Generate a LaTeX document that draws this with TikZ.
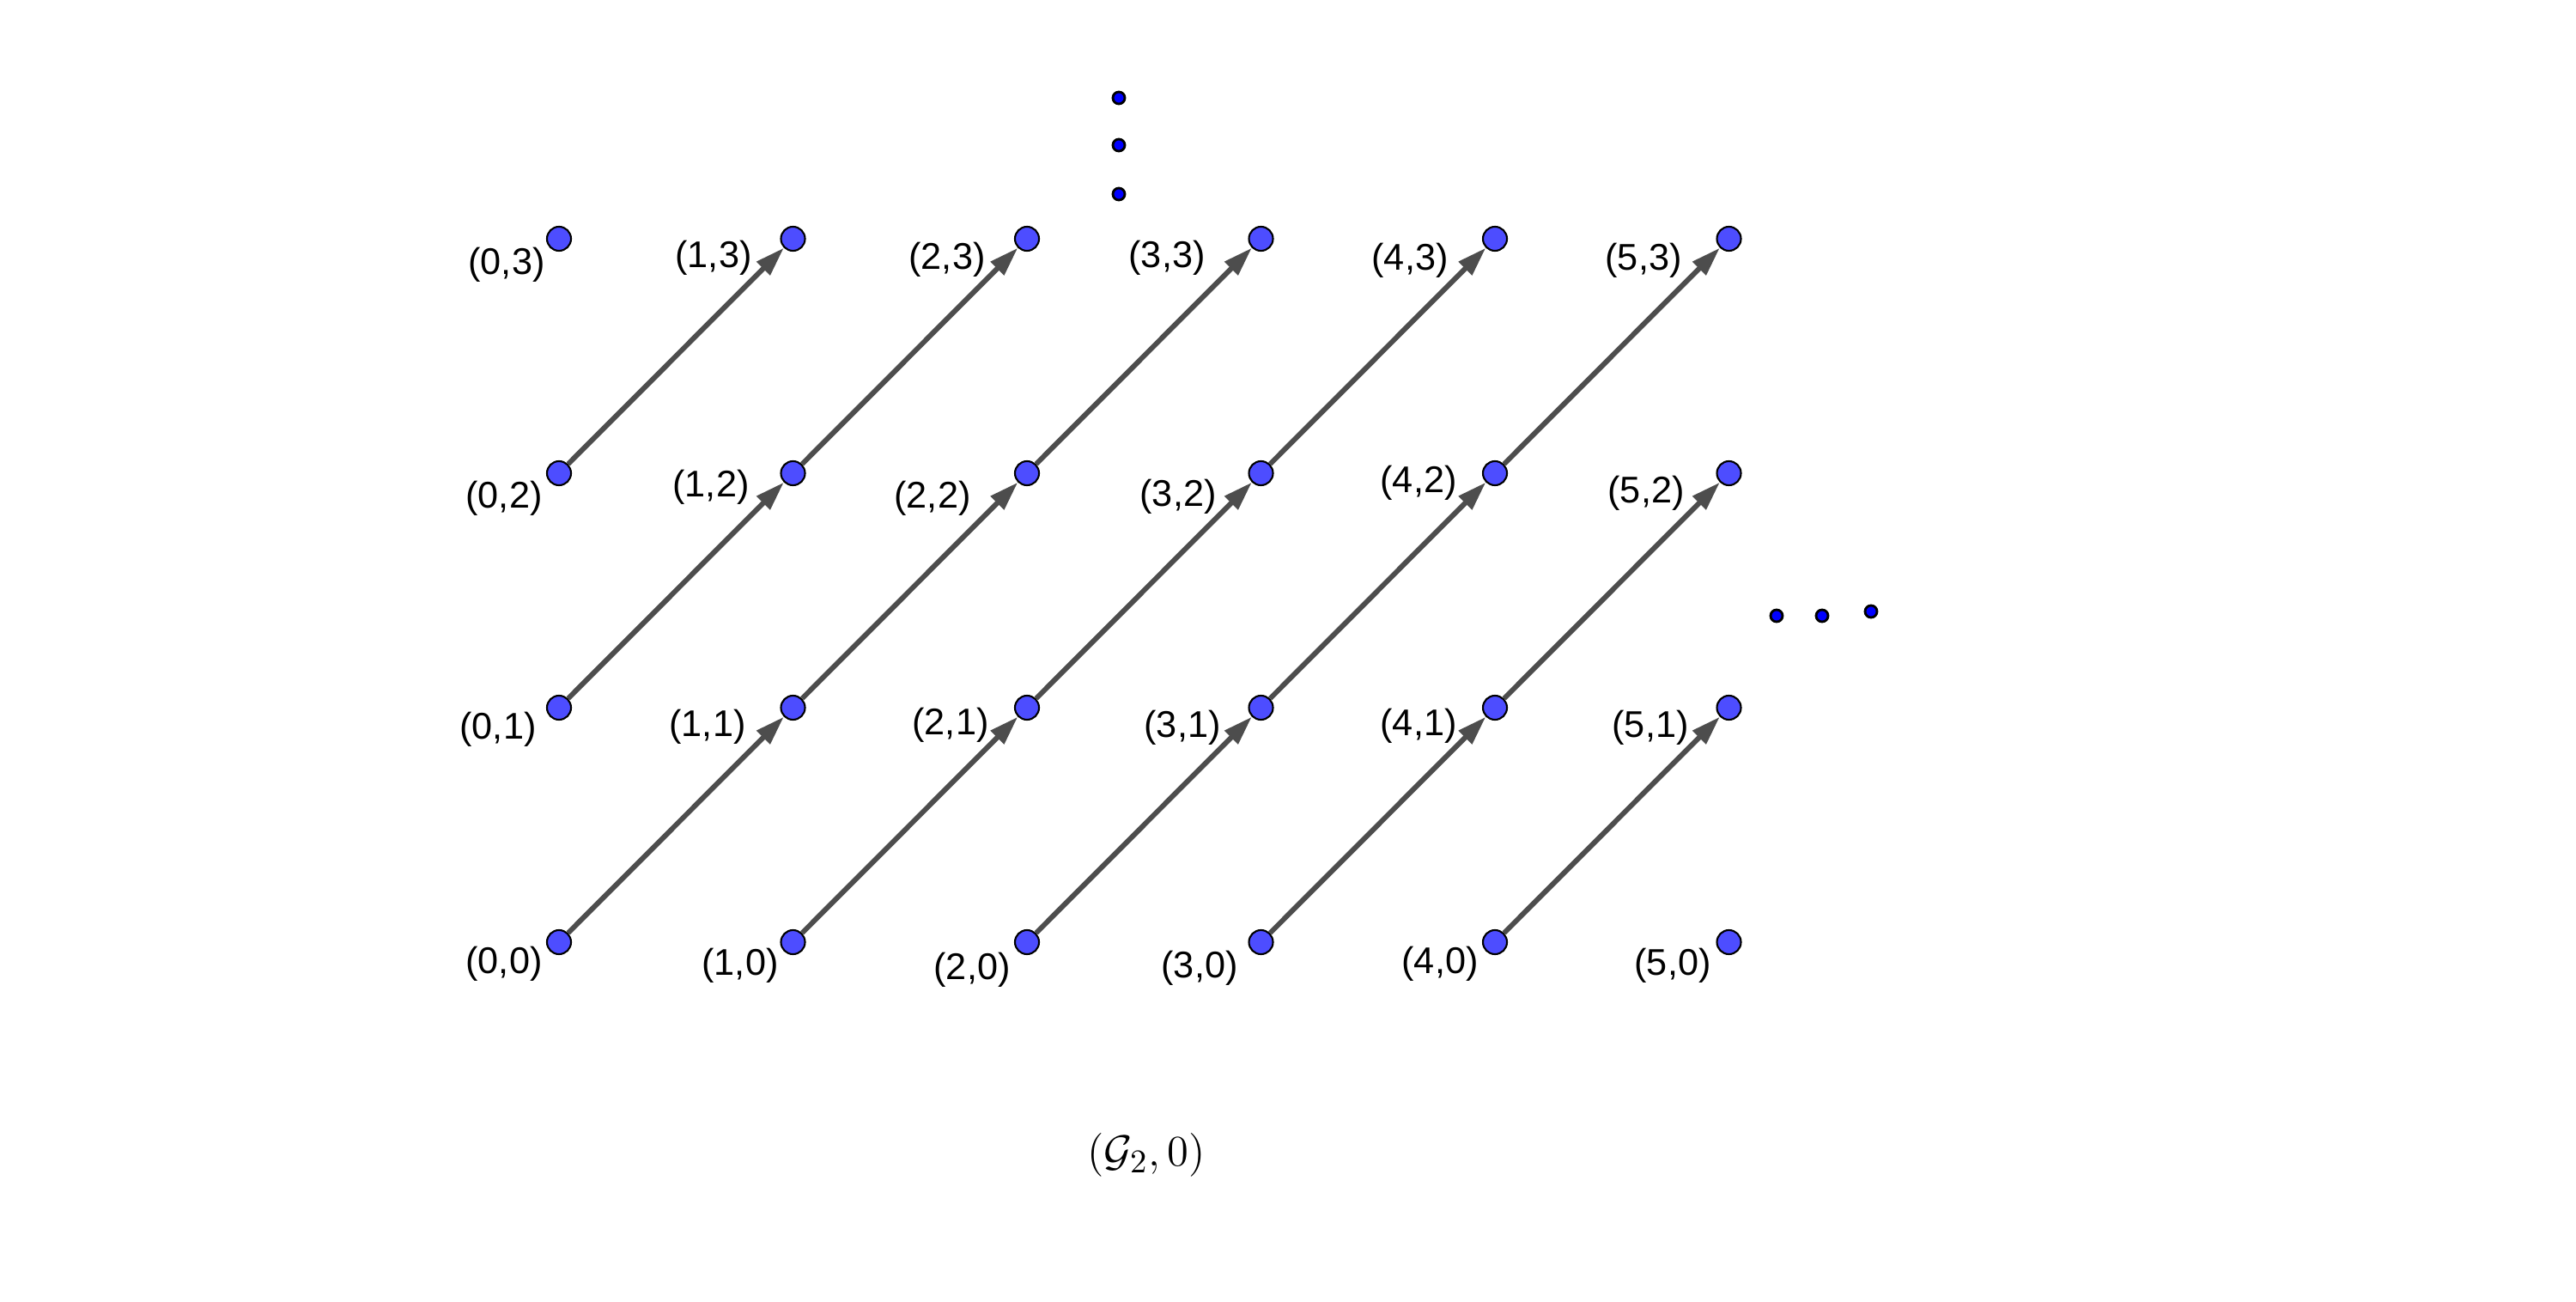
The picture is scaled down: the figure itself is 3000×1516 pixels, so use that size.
\documentclass[tikz,border=0pt]{standalone}
\usepackage{fontspec}
\newfontfamily\lab{Liberation Sans}
\usetikzlibrary{arrows.meta}
\definecolor{ptblue}{RGB}{77,77,255}
\definecolor{vecgray}{RGB}{77,77,77}
\begin{document}
\begin{tikzpicture}[x=0.01cm,y=-0.01cm,
  pt/.style={circle,draw=black,line width=0.6pt,fill=ptblue,minimum size=0.28cm,inner sep=0pt},
  smalldot/.style={circle,draw=black,line width=0.8pt,fill=blue,minimum size=0.14cm,inner sep=0pt},
  lbl/.style={font=\lab\fontsize{12.3}{14}\selectfont,inner sep=0pt},
  vec/.style={draw=vecgray,line width=1.7pt,-{Triangle[length=0.34cm,width=0.21cm]}}]
\useasboundingbox (0,0) rectangle (3000,1516);
\foreach \i in {0,...,5}
  \foreach \j in {0,...,3}
    \node[pt] (p\i\j) at ({651+272.5*\i},{1097-273*\j}) {};
\foreach \i in {0,...,4}
  \foreach \j in {0,1,2}{
    \pgfmathtruncatemacro\ii{\i+1}
    \pgfmathtruncatemacro\jj{\j+1}
    \draw[vec] (p\i\j) -- (p\ii\jj);
  }
\foreach \i/\j/\x/\y in {0/3/590/308, 1/3/831/300, 2/3/1103/302, 3/3/1359/300, 4/3/1642/303, 5/3/1914/303,
  0/2/587/580, 1/2/828/567, 2/2/1086/580, 3/2/1372/578, 4/2/1652/562, 5/2/1917/574,
  0/1/580/849, 1/1/824/846, 2/1/1107/844, 3/1/1377/847, 4/1/1652/845, 5/1/1922/847,
  0/0/587/1122, 1/0/862/1124, 2/0/1132/1129, 3/0/1397/1127, 4/0/1677/1122, 5/0/1948/1124}
  \node[lbl] (l\i\j) at (\x,\y) {(\i,\j)};
\node[smalldot] (v1) at (1303,114) {};
\node[smalldot] (v2) at (1303,169) {};
\node[smalldot] (v3) at (1303,226) {};
\node[smalldot] (h1) at (2069,717) {};
\node[smalldot] (h2) at (2122,717) {};
\node[smalldot] (h3) at (2179,712) {};
\node (title) at (1335,1345) {\fontsize{15.4}{18}\selectfont $(\mathcal{G}_2,0)$};
\end{tikzpicture}
\end{document}
